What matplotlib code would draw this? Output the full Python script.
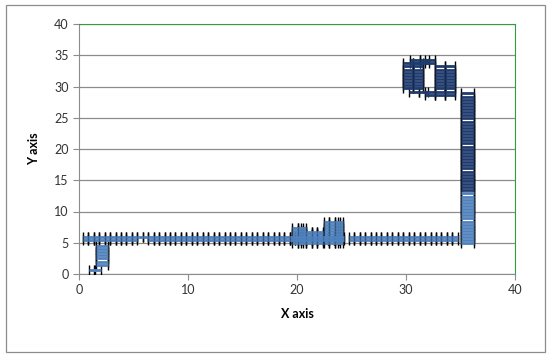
import numpy as np
import matplotlib.pyplot as plt
from matplotlib.patches import Rectangle

plt.rcParams['font.family'] = ['Lato', 'DejaVu Sans']

LIGHT = '#4F81BD'
DARK = '#1F3B6E'

# horizontal pipe (two rows)
pipe_x = [0.6, 1.1, 1.6, 2.1, 2.6, 3.1, 3.6, 4.1, 4.6, 5.1,
          6.6, 7.1, 7.6, 8.1, 8.6, 9.1, 9.6, 10.1, 10.6, 11.1, 11.6, 12.1,
          12.6, 13.1, 13.6, 14.1, 14.6, 15.1, 15.6, 16.1, 16.6, 17.1, 17.6,
          18.1, 18.6, 19.1, 19.6, 20.1, 20.6, 21.1, 21.6, 22.1, 22.6, 23.1,
          23.6, 24.1, 25.0, 25.5, 26.0, 26.5, 27.0, 27.5, 28.0, 28.5, 29.0,
          29.5, 30.0, 30.5, 31.0, 31.5, 32.0, 32.5, 33.0, 33.5, 34.0, 34.5]
pipe_y = [5.4, 5.9]
gap_x = [5.6, 6.1]
gap_y = [5.9]

# little stub at the left end
stub_x = [2.1]
stub_y = [1.5, 2.0, 2.5, 3.0, 3.5, 4.0, 4.5]
foot_x = [1.2, 1.7]
foot_y = [0.6]

# bump in the middle
bump1_x = [19.8, 20.3, 20.6]
bump1_y = [4.9, 5.4, 5.9, 6.4, 6.9, 7.4]
bump2_x = [21.1, 21.6, 22.1]
bump2_y = [4.9, 5.4, 5.9, 6.4, 6.8]
bump3_x = [22.7, 23.2, 23.7, 24.0]
bump3_y = [4.9, 5.4, 5.9, 6.4, 6.9, 7.4, 7.9, 8.3]

# vertical column on the right
col_x = [35.65]
col_low_y = [4.9, 5.4, 5.9, 6.4, 6.9, 7.4, 7.9, 8.4, 8.9, 9.4, 9.9,
             10.4, 10.9, 11.4, 11.9, 12.4, 12.9]
col_high_y = [13.4, 13.9, 14.4, 14.9, 15.4, 15.9, 16.4, 16.9, 17.4, 17.9,
              18.4, 18.9, 19.4, 19.9, 20.4, 20.9, 21.4, 21.9, 22.4, 22.9,
              23.4, 23.9, 24.4, 24.9, 25.4, 25.9, 26.4, 26.9, 27.4, 27.9,
              28.4, 28.9]

# the "Q" head
q_left_x = [30.2, 31.1]
q_left_y = [29.7, 30.2, 30.7, 31.2, 31.7, 32.2, 32.7, 33.2, 33.7]
q_top_x = [30.8, 31.7, 32.2]
q_top_y = [33.7, 34.2]
q_right_x = [33.1, 34.0]
q_right_y = [29.2, 29.7, 30.2, 30.7, 31.2, 31.7, 32.2, 32.7, 33.2]
q_bot_x = [30.7, 31.6, 32.2]
q_bot_y = [29.2]
q_tail_x = [32.2, 33.1, 34.0]
q_tail_y = [28.7]


def blob(ax, xs, ys, color, half):
    gx, gy = np.meshgrid(xs, ys)
    gx = gx.ravel()
    gy = gy.ravel()
    ax.errorbar(gx, gy, xerr=half, fmt='none', ecolor='black',
                elinewidth=0, capsize=3.3, capthick=1.0, zorder=3)
    ax.errorbar(gx, gy, xerr=half, fmt='none', ecolor=color,
                elinewidth=2.0, capsize=0, zorder=4)


fig = plt.figure(figsize=(5.5, 3.59), dpi=100)
ax = fig.add_axes([79 / 550, 1 - 274 / 359, 436 / 550, 250 / 359])

blob(ax, pipe_x, pipe_y, LIGHT, 0.25)
blob(ax, gap_x, gap_y, LIGHT, 0.25)
blob(ax, stub_x, stub_y, LIGHT, 0.55)
blob(ax, foot_x, foot_y, LIGHT, 0.3)
blob(ax, bump1_x, bump1_y, LIGHT, 0.25)
blob(ax, bump2_x, bump2_y, LIGHT, 0.25)
blob(ax, bump3_x, bump3_y, LIGHT, 0.25)
blob(ax, col_x, col_low_y, LIGHT, 0.6)
blob(ax, col_x, col_high_y, DARK, 0.6)
blob(ax, q_left_x, q_left_y, DARK, 0.45)
blob(ax, q_top_x, q_top_y, DARK, 0.45)
blob(ax, q_right_x, q_right_y, DARK, 0.45)
blob(ax, q_bot_x, q_bot_y, DARK, 0.45)
blob(ax, q_tail_x, q_tail_y, DARK, 0.45)

ax.set_xlim(0, 40)
ax.set_ylim(0, 40)
ax.set_xticks([0, 10, 20, 30, 40])
ax.set_yticks(range(0, 41, 5))
ax.grid(axis='y', color='#8c8c8c', lw=0.9)
ax.set_axisbelow(True)
ax.tick_params(colors='#8c8c8c', labelcolor='#333333', labelsize=9, length=4)
for s in ['left', 'bottom']:
    ax.spines[s].set_color('#8c8c8c')
for s in ['top', 'right']:
    ax.spines[s].set_color('#2E9E3E')

ax.set_xlabel('X axis', fontsize=9, fontweight='bold', labelpad=8)
ax.set_ylabel('Y axis', fontsize=9, fontweight='bold', labelpad=10)

fig.add_artist(Rectangle((6 / 550, 1 - 352 / 359), 539 / 550, 347 / 359,
                         transform=fig.transFigure, fill=False,
                         edgecolor='#8c8c8c', lw=0.9))

fig.savefig('out.png', dpi=100)
